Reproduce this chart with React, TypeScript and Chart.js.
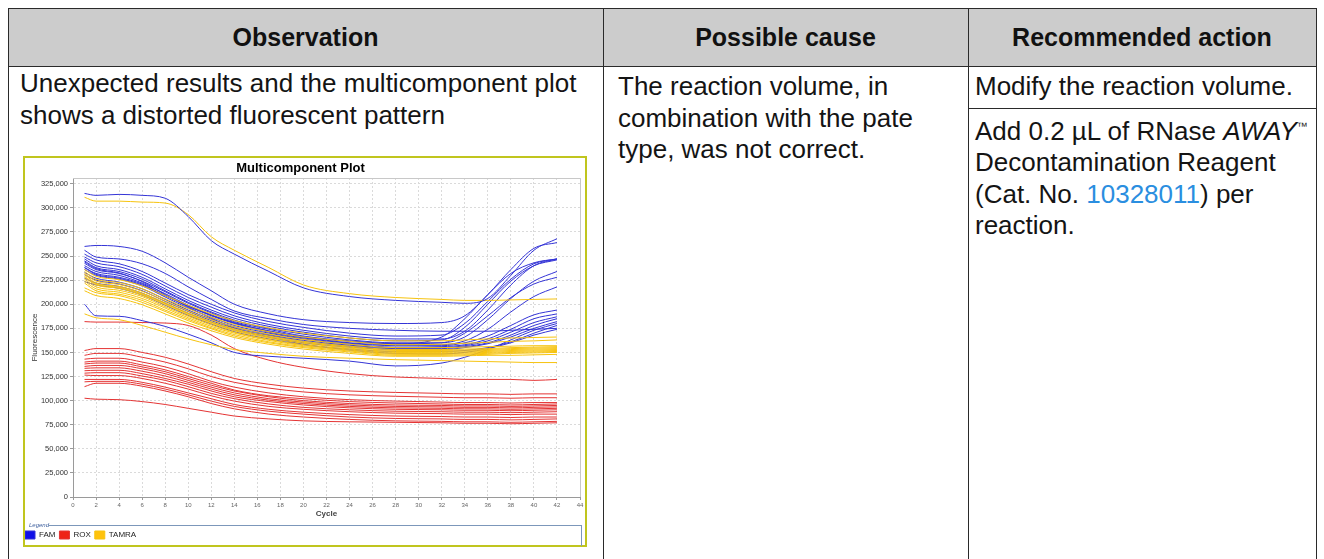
import React, { useEffect, useRef } from 'react';
import { Chart, registerables } from 'chart.js';

Chart.register(...registerables);

// ---------- data (fluorescence in thousands) ----------
const CYCLES = [1, 2, 4, 6, 8, 10, 12, 14, 17, 20, 24, 28, 32, 34, 36, 38, 40, 42];
const X_TICKS = [0, 2, 4, 6, 8, 10, 12, 14, 16, 18, 20, 22, 24, 26, 28, 30, 32, 34, 36, 38, 40, 42, 44];
const Y_TICKS = [0, 25000, 50000, 75000, 100000, 125000, 150000, 175000, 200000, 225000, 250000, 275000, 300000, 325000];
const LEGEND_NAMES = ['FAM', 'ROX', 'TAMRA'];

const FAM_01 = [315, 313, 314, 313, 310, 291, 266, 252, 234, 217, 208, 204, 202, 201, 206, 230, 256, 268];
const FAM_02 = [260, 261, 260, 255, 243, 228, 214, 200, 190, 184, 181, 180, 181, 188, 210, 236, 258, 264];
const FAM_03 = [256, 249, 247, 242, 232, 218, 205, 193, 185, 179, 175, 173, 172, 172, 172, 173, 174, 175];
const FAM_04 = [252, 246, 242, 234, 222, 210, 200, 191, 182, 176, 170, 167, 168, 180, 203, 226, 242, 247];
const FAM_05 = [249, 243, 239, 231, 219, 207, 197, 188, 179, 173, 167, 164, 164, 172, 194, 220, 240, 247];
const FAM_06 = [247, 240, 236, 228, 216, 204, 194, 185.5, 177, 171, 165, 162, 163, 176, 200, 224, 240, 246];
const FAM_07 = [245, 238, 234, 226, 214, 202, 192, 183.5, 175, 169, 163, 160, 160, 166, 184, 206, 224, 234];
const FAM_08 = [242.5, 236, 232, 224, 213, 201, 191, 182, 174, 167, 162, 159, 160, 170, 188, 207, 221, 228];
const FAM_09 = [240, 234, 230, 222, 211, 199, 189, 181, 172, 166, 160, 158, 158, 162, 174, 192, 208, 218];
const FAM_10 = [238, 232, 228, 221, 209, 198, 188, 180, 171, 165, 159.5, 157, 157, 160, 167, 178, 189, 194];
const FAM_11 = [236, 230, 226, 219, 207.5, 196, 186.5, 178, 170, 164, 158.5, 155.5, 156, 158, 164, 174, 185, 190];
const FAM_12 = [233, 227, 223, 216, 205, 194, 184.5, 176.5, 168.5, 162.5, 157.5, 155, 155, 157, 162, 171, 181, 187];
const FAM_13 = [230.5, 225, 221, 214, 203, 192.5, 183, 175, 167.5, 161.5, 156.5, 154, 154, 156, 160, 168, 178, 185];
const FAM_14 = [227, 222, 218.5, 211.5, 201, 190.5, 181.5, 173.5, 166, 160, 155.5, 153, 153, 155, 159, 166, 175, 182];
const FAM_15 = [223.5, 220, 216.5, 209.5, 199, 188.5, 179.5, 171.5, 164, 158, 153.5, 151, 151, 152, 155, 161, 170, 178];
const FAM_16 = [244, 237, 232.5, 223.5, 210, 197, 185.5, 175.5, 166, 158.5, 152.5, 149, 148.5, 150, 154, 160, 168, 174];
const FAM_17 = [238, 231, 227, 220, 209, 198, 188.5, 180.5, 172.5, 166, 161.5, 159, 166, 185, 210, 232, 243, 247];
const FAM_18 = [200, 188, 187.5, 183, 177, 169, 160, 150, 146, 144, 141, 136, 139, 145, 153, 163, 173, 180];

const TAMRA_01 = [311, 307, 307, 306, 305, 293, 270, 256, 238, 220, 211, 207, 205, 204, 204, 204.5, 205, 205.5];
const TAMRA_02 = [236, 229, 225.5, 219, 209, 199, 190, 183, 175.5, 170, 165, 162, 162, 163, 164, 165, 165.5, 166];
const TAMRA_03 = [234, 226, 222.5, 216, 205.5, 195.5, 186.5, 179, 171.5, 166, 161.5, 158, 158.5, 159.5, 160.5, 161.5, 162, 163];
const TAMRA_04 = [232, 224, 220.5, 213.5, 203.5, 193, 184, 176.5, 169, 163.5, 158.5, 155, 155, 155.5, 156, 156.5, 157, 157];
const TAMRA_05 = [231, 222, 218.5, 211.5, 201.5, 191, 182, 174.5, 167, 161.5, 156.5, 153, 153, 153.5, 154, 155, 155.5, 156];
const TAMRA_06 = [229, 221, 217.5, 210.5, 200.5, 190, 181, 173.5, 166, 160.5, 155.5, 152, 152, 152.5, 153, 154, 154.5, 155];
const TAMRA_07 = [228, 220, 216.5, 209.5, 199.5, 189, 180, 172.5, 165, 159.5, 154.5, 151, 151, 151.5, 152, 153, 153.5, 154];
const TAMRA_08 = [226, 218, 214.5, 208, 197.5, 187.5, 178.5, 171, 163.5, 158, 153.5, 150, 150, 150.5, 151, 152, 152.5, 153];
const TAMRA_09 = [224, 216, 212.5, 206, 196, 186, 177, 170, 162.5, 157, 152.5, 149, 149, 149.5, 150, 151, 151.5, 152];
const TAMRA_10 = [222, 214, 210.5, 204, 194, 184.5, 175.5, 168.5, 161, 156, 151.5, 148, 148, 148.5, 149, 150, 150.5, 151];
const TAMRA_11 = [217, 212, 209, 202, 192.5, 183, 174.5, 167, 160, 155, 150.5, 147, 147, 147.5, 148, 149, 149.5, 150];
const TAMRA_12 = [214, 209, 206, 199.5, 190, 180.5, 172.5, 165.5, 158.5, 153.5, 149, 146, 146, 146.5, 147, 147, 147.5, 148];
const TAMRA_13 = [190, 186, 184, 178, 171, 164, 158, 153, 149, 146, 144, 142.5, 141.5, 141, 140.5, 140, 139.5, 139.5];

const ROX_01 = [182, 181.5, 181.5, 181, 180.5, 178, 168, 154, 142, 134.5, 128, 124.5, 123, 122, 122, 122, 121, 122];
const ROX_02 = [152, 154, 154, 150, 145, 138, 130, 123, 117, 113, 110, 108.5, 107.5, 107, 107, 106.5, 107, 107];
const ROX_03 = [147, 149, 149, 145, 140, 133, 125, 119, 113, 109, 106, 104.5, 103.5, 103, 103, 102.5, 103, 103];
const ROX_04 = [143, 144, 144, 140, 135, 128, 120, 114, 108, 104, 101, 99.5, 98.5, 98, 98, 97.5, 98, 98];
const ROX_05 = [140, 141, 141, 137, 132, 125, 118, 111, 105, 102, 99, 97.5, 96.5, 96, 96, 95.5, 96, 96.5];
const ROX_06 = [138, 139, 139, 135, 130, 123, 116, 110, 104, 100, 97, 95.5, 95, 94.5, 94.5, 94, 94.5, 95];
const ROX_07 = [135.5, 136.5, 136.5, 133, 128, 121, 114, 108, 102, 98.5, 95.5, 94, 93.5, 93, 93, 92.5, 93, 93.5];
const ROX_08 = [133.5, 134, 134, 130.5, 125.5, 119, 112, 106, 100.5, 97, 94, 92.5, 92, 91.5, 91.5, 91, 91.5, 92];
const ROX_09 = [131, 131.5, 131.5, 128, 123, 117, 110, 104, 99, 95.5, 92.5, 91, 90.5, 90, 90, 89.5, 90, 90.5];
const ROX_10 = [128.5, 129, 129, 125.5, 121, 114.5, 107.5, 102, 96.5, 93, 90.5, 89, 88.5, 88, 88, 87.5, 88, 88.5];
const ROX_11 = [126.5, 126, 126, 123, 118, 112, 105, 99.5, 94, 91, 88.5, 87, 86.5, 86, 86, 85.5, 86, 86];
const ROX_12 = [122, 122, 122, 119, 114, 108, 102, 96, 91, 88, 85.5, 84, 83.5, 83, 83, 82.5, 83, 83];
const ROX_13 = [119.5, 120, 120, 117, 112, 106, 99.5, 94, 89, 86, 83, 81.5, 81, 80.5, 80.5, 80, 80.5, 81];
const ROX_14 = [114.5, 118, 118, 115, 110, 104, 97, 91.5, 86, 83, 80.5, 79, 78.5, 78, 78, 77.5, 78, 78.5];
const ROX_15 = [102.5, 101.5, 101, 99, 96, 92, 88, 84, 81, 79, 78, 77.5, 77, 76.5, 76.5, 76, 76.5, 77];

const FAM_SERIES = [FAM_01, FAM_02, FAM_03, FAM_04, FAM_05, FAM_06, FAM_07, FAM_08, FAM_09, FAM_10, FAM_11, FAM_12, FAM_13, FAM_14, FAM_15, FAM_16, FAM_17, FAM_18];
const TAMRA_SERIES = [TAMRA_01, TAMRA_02, TAMRA_03, TAMRA_04, TAMRA_05, TAMRA_06, TAMRA_07, TAMRA_08, TAMRA_09, TAMRA_10, TAMRA_11, TAMRA_12, TAMRA_13];
const ROX_SERIES = [ROX_01, ROX_02, ROX_03, ROX_04, ROX_05, ROX_06, ROX_07, ROX_08, ROX_09, ROX_10, ROX_11, ROX_12, ROX_13, ROX_14, ROX_15];

// ---------- styles ----------
const FAM_LINE = '#3434d6';
const ROX_LINE = '#e43434';
const TAMRA_LINE = '#f6c30e';
const FAM_KEY = '#1010e8';
const ROX_KEY = '#ee2418';
const TAMRA_KEY = '#ffc20c';
const FONT = '"Liberation Sans", Arial, Helvetica, sans-serif';

function makeSet(name: string, values: number[], first: boolean, line: string, key: string) {
  return {
    label: first ? name : '',
    data: values.map((v, i) => ({ x: CYCLES[i], y: v * 1000 })),
    borderColor: line,
    backgroundColor: key,
    borderWidth: 1,
    pointRadius: 0,
    fill: false,
    cubicInterpolationMode: 'monotone' as const,
  };
}

const framePlugin = {
  id: 'frame',
  afterDraw(chart: any) {
    const { ctx, chartArea } = chart;
    ctx.save();
    ctx.strokeStyle = '#c8c8c8';
    ctx.lineWidth = 1;
    ctx.beginPath();
    ctx.moveTo(chartArea.left, chartArea.top + 0.5);
    ctx.lineTo(chartArea.right + 0.5, chartArea.top + 0.5);
    ctx.lineTo(chartArea.right + 0.5, chartArea.bottom);
    ctx.stroke();
    ctx.restore();
  },
};

function McChart() {
  const ref = useRef<HTMLCanvasElement>(null);
  useEffect(() => {
    const datasets: any[] = [];
    const n = Math.max(FAM_SERIES.length, TAMRA_SERIES.length);
    for (let i = 0; i < n; i++) {
      if (i < FAM_SERIES.length) datasets.push(makeSet('FAM', FAM_SERIES[i], i === 0, FAM_LINE, FAM_KEY));
      if (i < TAMRA_SERIES.length) datasets.push(makeSet('TAMRA', TAMRA_SERIES[i], i === 0, TAMRA_LINE, TAMRA_KEY));
    }
    ROX_SERIES.forEach((s, i) => datasets.push(makeSet('ROX', s, i === 0, ROX_LINE, ROX_KEY)));

    const chart = new Chart(ref.current as HTMLCanvasElement, {
      type: 'line',
      data: { datasets },
      plugins: [framePlugin],
      options: {
        animation: false,
        responsive: false,
        events: [],
        layout: { padding: { left: 0, right: 6, top: 0, bottom: 0 } },
        plugins: {
          tooltip: { enabled: false },
          title: {
            display: true,
            text: 'Multicomponent Plot',
            color: '#000',
            font: { family: FONT, size: 13, weight: 'bold' },
            padding: { top: 2, bottom: 1.4 },
          },
          legend: {
            position: 'bottom',
            align: 'start',
            labels: {
              boxWidth: 10,
              boxHeight: 8,
              padding: 4,
              color: '#222',
              font: { family: FONT, size: 8 },
              filter: (item: any) => item.text !== '',
              sort: (a: any, b: any) => LEGEND_NAMES.indexOf(a.text) - LEGEND_NAMES.indexOf(b.text),
            },
          },
        },
        scales: {
          x: {
            type: 'linear',
            min: 0,
            max: 44,
            afterBuildTicks: (scale: any) => {
              scale.ticks = X_TICKS.map((v) => ({ value: v }));
            },
            afterFit: (scale: any) => {
              scale.height = 30;
            },
            ticks: {
              color: '#666',
              font: { family: FONT, size: 6 },
              padding: 2,
              maxRotation: 0,
              autoSkip: false,
            },
            grid: { color: '#dadada', tickLength: 3, tickColor: '#9a9a9a' },
            border: { color: '#9a9a9a', dash: [2, 2] },
            title: {
              display: true,
              text: 'Cycle',
              color: '#444',
              font: { family: FONT, size: 8, weight: 'bold' },
              padding: { top: 0, bottom: 8.7 },
            },
          },
          y: {
            type: 'linear',
            min: 0,
            max: 331000,
            afterBuildTicks: (scale: any) => {
              scale.ticks = Y_TICKS.map((v) => ({ value: v }));
            },
            afterFit: (scale: any) => {
              scale.width = 52;
            },
            ticks: {
              color: '#333',
              font: { family: FONT, size: 7.5 },
              padding: 2,
              callback: (v: any) => Number(v).toLocaleString('en-US'),
            },
            grid: { color: '#dadada', tickLength: 3, tickColor: '#9a9a9a' },
            border: { color: '#9a9a9a', dash: [2, 2] },
            title: {
              display: true,
              text: 'Fluorescence',
              color: '#333',
              font: { family: FONT, size: 8 },
              padding: { top: 9, bottom: 0 },
            },
          },
        },
      },
    } as any);
    return () => chart.destroy();
  }, []);
  return (
    <canvas
      ref={ref}
      width={565}
      height={390}
      style={{ position: 'absolute', left: 21, top: 159, width: 565, height: 390 }}
    />
  );
}

const line = (l: number, t: number, w: number, h: number, c = '#2a2a2a') => (
  <div style={{ position: 'absolute', left: l, top: t, width: w, height: h, background: c }} />
);

export default function App() {
  const body: React.CSSProperties = {
    position: 'absolute',
    fontFamily: FONT,
    fontSize: 26,
    lineHeight: '31.5px',
    color: '#141414',
    whiteSpace: 'nowrap',
  };
  const head: React.CSSProperties = {
    position: 'absolute',
    top: 8,
    height: 58,
    display: 'flex',
    alignItems: 'center',
    justifyContent: 'center',
    fontFamily: FONT,
    fontSize: 25,
    fontWeight: 'bold',
    color: '#111',
  };
  return (
    <div
      style={{
        position: 'absolute',
        left: 0,
        top: 0,
        width: 1324,
        height: 559,
        overflow: 'hidden',
        background: '#fff',
      }}
    >
      <div style={{ position: 'absolute', left: 8, top: 8, width: 1308, height: 58, background: '#cccccc' }} />
      {line(8, 8, 1309, 1)}
      {line(8, 66, 1309, 1)}
      {line(8, 8, 1, 560)}
      {line(603, 8, 1, 560)}
      {line(968, 8, 1, 560)}
      {line(1316, 8, 1, 560)}
      {line(968, 108, 348, 1)}

      <div style={{ ...head, left: 8, width: 595 }}>Observation</div>
      <div style={{ ...head, left: 603, width: 365 }}>Possible cause</div>
      <div style={{ ...head, left: 968, width: 348 }}>Recommended action</div>

      <div style={{ ...body, left: 20, top: 68 }}>
        Unexpected results and the multicomponent plot
        <br />
        shows a distorted fluorescent pattern
      </div>
      <div style={{ ...body, left: 618, top: 71 }}>
        The reaction volume, in
        <br />
        combination with the pate
        <br />
        type, was not correct.
      </div>
      <div style={{ ...body, left: 975, top: 71 }}>Modify the reaction volume.</div>
      <div style={{ ...body, left: 975, top: 115.5 }}>
        Add 0.2 µL of RNase <i>AWAY</i>
        <span style={{ fontSize: 11, verticalAlign: 'top', lineHeight: '20px' }}>™</span>
        <br />
        Decontamination Reagent
        <br />
        (Cat. No. <span style={{ color: '#2a8ee0' }}>10328011</span>) per
        <br />
        reaction.
      </div>

      <McChart />

      {/* chart image frame */}
      <div
        style={{
          position: 'absolute',
          left: 23,
          top: 156,
          width: 560,
          height: 387,
          border: '2.5px solid #c0c51e',
          pointerEvents: 'none',
        }}
      />
      {/* legend fieldset */}
      <div
        style={{
          position: 'absolute',
          left: 29,
          top: 521,
          fontFamily: FONT,
          fontSize: 6,
          fontStyle: 'italic',
          color: '#3b5d9c',
          lineHeight: '8px',
        }}
      >
        Legend
      </div>
      {line(48, 525, 534, 1, '#7c97ba')}
      {line(581, 525, 1, 21, '#7c97ba')}
    </div>
  );
}
